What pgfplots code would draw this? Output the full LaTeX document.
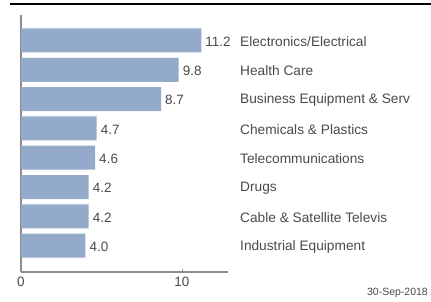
\documentclass[border=0pt]{standalone}
\usepackage{fontspec}
\setmainfont{Liberation Sans}
\usepackage{pgfplots}
\pgfplotsset{compat=1.18}
\definecolor{barc}{HTML}{93AACB}
\definecolor{txt}{HTML}{4A4A4A}
\definecolor{axc}{HTML}{8C8C8C}
\begin{document}
\begin{tikzpicture}
\useasboundingbox (0,0) rectangle (431pt,302pt);
\draw[line width=1.5pt, black] (10pt,298pt) -- (431pt,298pt);
\begin{axis}[
  at={(21pt,30pt)}, anchor=south west,
  scale only axis, width=207pt, height=257pt,
  xmin=0, xmax=12.86, ymin=0.1, ymax=8.87,
  axis x line=bottom, axis y line=left,
  axis line style={axc, line width=1.2pt, -},
  xtick={0,10},
  xtick style={axc, line width=0.8pt},
  major tick length=3pt,
  tick align=inside,
  ytick={1,2,3,4,5,6,7,8},
  yticklabels={Industrial Equipment, Cable \& Satellite Televis, Drugs, Telecommunications, Chemicals \& Plastics, Business Equipment \& Serv, Health Care, Electronics/Electrical},
  ytick style={draw=none},
  yticklabel style={anchor=west, inner sep=0pt, xshift=222pt, yshift=-1pt, font=\fontsize{13.7}{15}\selectfont, text=txt},
  xticklabel style={font=\fontsize{13.5}{15}\selectfont, text=txt, yshift=-2pt},
  /pgf/number format/assume math mode=true,
  xbar, bar width=24pt,
  nodes near coords,
  every node near coord/.append style={/pgf/number format/fixed, /pgf/number format/fixed zerofill, /pgf/number format/precision=1, /pgf/number format/assume math mode=true, anchor=west, inner sep=0pt, xshift=4pt, yshift=-1pt, font=\fontsize{13.5}{15}\selectfont, text=txt},
  clip=false,
]
\addplot[fill=barc, draw=none] coordinates {
 (11.2,8) (9.8,7) (8.7,6) (4.7,5) (4.6,4) (4.2,3) (4.2,2) (4.0,1)
};
\end{axis}
\node[anchor=east, inner sep=0pt, text=txt, font=\fontsize{10.5}{12}\selectfont] at (428pt,9pt) {30-Sep-2018};
\end{tikzpicture}
\end{document}
